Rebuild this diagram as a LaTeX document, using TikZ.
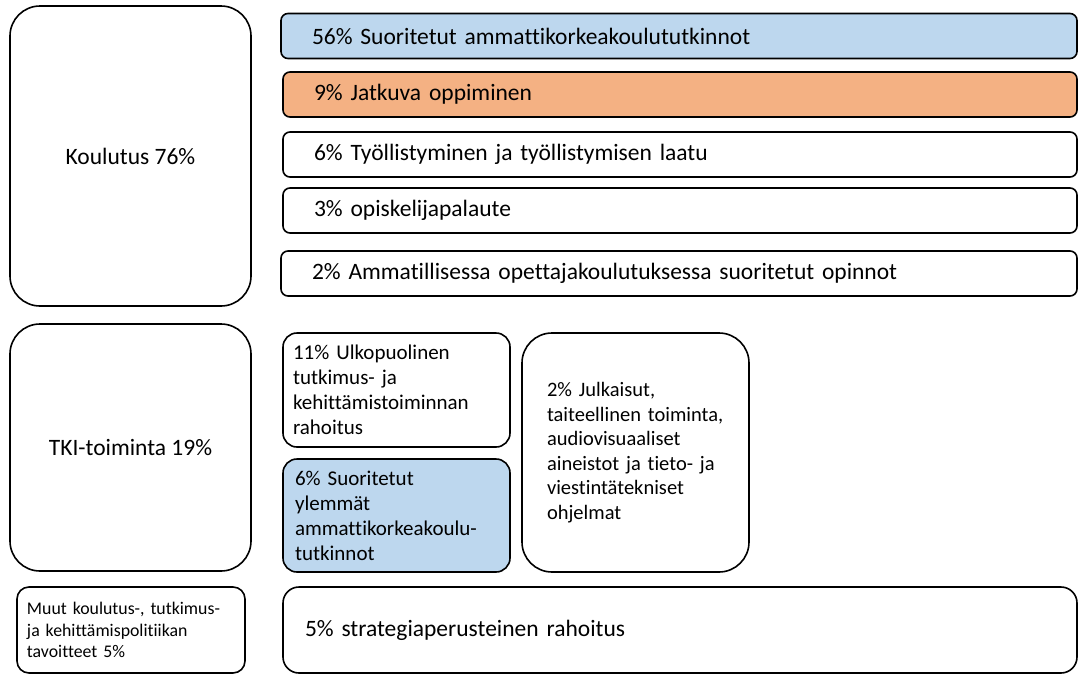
\documentclass[tikz,border=0pt]{standalone}
\usepackage{fontspec}
\setmainfont[Ligatures=NoCommon]{Carlito}
\definecolor{lblue}{HTML}{BDD7EE}
\definecolor{lorange}{HTML}{F4B183}
\begin{document}
\begin{tikzpicture}[x=1pt,y=1pt]
\tikzset{
  box/.style={draw=black, line width=1.6pt, inner sep=0pt, font=\fontsize{23.5}{27}\selectfont},
  bar/.style={box, rounded corners=7pt, minimum height=45pt, inner xsep=31pt, text width=734pt, align=left, minimum width=796pt},
  small/.style={box, font=\fontsize{21}{25}\selectfont, align=left}
}
\useasboundingbox (0,0) rectangle (1079,-675);
\node[box, rounded corners=30pt, minimum width=241pt, minimum height=300pt] (kou) at (130.5,-156) {Koulutus 76\%};
\node[bar, fill=lblue] (s56) at (679,-36) {56\% Suoritetut ammattikorkeakoulututkinnot};
\node[bar, fill=lorange, minimum width=794pt, text width=732pt, inner xsep=30pt] (j9) at (680,-94.5) {9\% Jatkuva oppiminen};
\node[bar, minimum width=794pt, text width=732pt, inner xsep=30pt] (t6) at (680,-154.5) {6\% Työllistyminen ja työllistymisen laatu};
\node[bar, minimum width=794pt, text width=732pt, inner xsep=30pt] (o3) at (680,-210.5) {3\% opiskelijapalaute};
\node[bar] (a2) at (679,-273.5) {2\% Ammatillisessa opettajakoulutuksessa suoritetut opinnot};
\node[box, rounded corners=30pt, minimum width=241pt, minimum height=247pt] (tki) at (130.5,-447.5) {TKI-toiminta 19\%};
\node[small, rounded corners=14pt, minimum width=227pt, minimum height=114pt, inner xsep=10pt, text width=207pt] (u11) at (396.5,-390) {11\% Ulkopuolinen\\tutkimus- ja\\kehittämistoiminnan\\rahoitus};
\node[small, fill=lblue, rounded corners=14pt, minimum width=227pt, minimum height=113pt, inner xsep=12pt, text width=203pt] (y6) at (396.5,-515.5) {6\% Suoritetut\\ylemmät\\ammattikorkeakoulu-\\tutkinnot};
\node[small, font=\fontsize{20.5}{24.5}\selectfont, rounded corners=30pt, minimum width=227pt, minimum height=239pt, inner xsep=25pt, text width=177pt] (ju2) at (635.5,-452.5) {2\% Julkaisut,\\taiteellinen toiminta,\\audiovisuaaliset\\aineistot ja tieto- ja\\viestintätekniset\\ohjelmat};
\node[box, font=\fontsize{17.8}{21.5}\selectfont, align=left, rounded corners=12pt, minimum width=228pt, minimum height=86pt, inner xsep=10pt, text width=208pt] (mu) at (131,-630) {Muut koulutus-, tutkimus-\\ja kehittämispolitiikan\\tavoitteet 5\%};
\node[box, rounded corners=16pt, minimum width=794pt, minimum height=86pt, inner xsep=22pt, text width=750pt, align=left] (st5) at (680,-630) {5\% strategiaperusteinen rahoitus};
\end{tikzpicture}
\end{document}
